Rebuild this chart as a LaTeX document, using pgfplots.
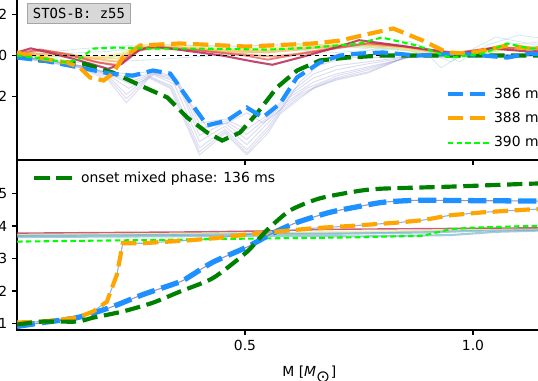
\documentclass[border=0pt]{standalone}
\usepackage{fontspec}
\setmainfont{DejaVu Sans}
\newfontfamily\monofont{DejaVu Sans Mono}
\usepackage{pgfplots}
\pgfplotsset{compat=1.18}

\definecolor{c386}{RGB}{30,144,255}
\definecolor{c388}{RGB}{255,165,0}
\definecolor{c390}{RGB}{0,255,0}
\definecolor{conset}{RGB}{0,128,0}
\definecolor{fanA}{RGB}{185,40,85}
\definecolor{fanB}{RGB}{225,85,80}
\definecolor{fanB2}{RGB}{240,130,85}
\definecolor{fanC}{RGB}{250,180,100}
\definecolor{fanC2}{RGB}{250,210,120}
\definecolor{fanD}{RGB}{245,235,150}
\definecolor{fanE}{RGB}{190,225,160}
\definecolor{fanT}{RGB}{130,195,210}
\definecolor{fanL}{RGB}{140,145,205}
\definecolor{teal}{RGB}{100,170,195}
\definecolor{boxgray}{RGB}{216,216,216}

\pgfplotsset{
  panel/.style={
    scale only axis, width=393.98pt, height=122.4pt,
    xmin=0, xmax=1.2,
    axis line style={line width=0.8pt},
    every tick/.style={line width=0.8pt, black},
    tick align=outside, major tick length=3.5pt,
    tick pos=left,
    xtick={0.5,1.0},
    /pgf/number format/assume math mode=true,
    legend cell align=left,
    legend image code/.code={\draw[##1] (0pt,0pt) -- (23pt,0pt); \path (0pt,0pt) -- (30pt,0pt);},
  },
  thick dash/.style={line width=3pt, dash pattern=on 11pt off 4.8pt},
  thin dash/.style={line width=1.5pt, dash pattern=on 4pt off 2.4pt},
  fan/.style={line width=1.3pt, opacity=0.75, forget plot},
  faint/.style={line width=0.5pt, opacity=0.35, forget plot},
  dip/.style={line width=0.7pt, opacity=0.3, fanL, forget plot},
}

\begin{document}
\begin{tikzpicture}
\useasboundingbox (0,0) rectangle (387.36pt,273.6pt);
\clip (0,0) rectangle (387.36pt,273.6pt);

% upper panel
\begin{axis}[panel,
    at={(12.24pt,158.4pt)},
    ymin=-5.1, ymax=3.2,
    ytick={-2,0,2},
    xticklabels={},
    legend style={at={(axis cs:0.93,-1.3)}, anchor=north west,
      draw=none, fill=none, row sep=4.5pt},
]
% fan of earlier times
\addplot[faint, fanT, line width=0.6pt] coordinates {(0,0.0)(0.08,0.2)(0.15,0.35)(0.25,0.5)(0.35,0.55)(0.45,0.4)(0.55,0.5)(0.65,0.55)(0.72,0.4)(0.8,0.6)(0.88,0.5)(0.93,-0.6)(0.98,0.1)(1.05,0.9)(1.12,0.6)(1.2,0.8)};
\addplot[faint, fanT, line width=0.6pt] coordinates {(0,-0.1)(0.07,-0.2)(0.14,-0.35)(0.2,-0.3)(0.3,-0.2)(0.4,-0.05)(0.5,0.1)(0.6,0.3)(0.7,0.15)(0.8,0.3)(0.9,0.2)(0.95,-0.3)(1.0,0.2)(1.08,0.6)(1.2,0.5)};
\addplot[faint, fanT, line width=0.6pt] coordinates {(0,0.05)(0.1,0.1)(0.2,0.2)(0.3,0.45)(0.4,0.5)(0.5,0.45)(0.6,0.6)(0.7,0.5)(0.78,0.3)(0.86,0.7)(0.92,0.2)(0.97,-0.3)(1.03,0.5)(1.1,1.0)(1.2,0.7)};
% late times: the dip
\addplot[dip] coordinates {(0,-0.1)(0.057,-0.3)(0.138,-0.6)(0.2,-1.2)(0.24,-2.3)(0.29,-1.1)(0.336,-1.6)(0.4,-4.85)(0.456,-3.8)(0.504,-4.85)(0.55,-3.8)(0.577,-2.85)(0.623,-2.05)(0.65,-1.6)(0.7,-1.2)(0.77,-0.85)(0.86,0.0)(0.95,0.05)(1.05,-0.05)(1.2,0.0)};
\addplot[dip] coordinates {(0,-0.1)(0.057,-0.28)(0.138,-0.58)(0.2,-1.1)(0.24,-2.1)(0.29,-1.05)(0.338,-1.55)(0.4,-4.7)(0.456,-3.7)(0.504,-4.75)(0.55,-3.65)(0.578,-2.75)(0.62,-2.0)(0.655,-1.55)(0.7,-1.15)(0.77,-0.8)(0.86,-0.02)(0.95,0.08)(1.2,0.0)};
\addplot[dip] coordinates {(0,-0.1)(0.057,-0.25)(0.138,-0.55)(0.2,-1.0)(0.24,-1.9)(0.29,-1.0)(0.34,-1.5)(0.4,-4.5)(0.456,-3.6)(0.504,-4.6)(0.55,-3.5)(0.58,-2.6)(0.62,-1.9)(0.66,-1.45)(0.7,-1.1)(0.77,-0.7)(0.86,-0.05)(0.95,0.1)(1.2,0.0)};
\addplot[dip] coordinates {(0,-0.08)(0.058,-0.22)(0.14,-0.52)(0.2,-0.95)(0.245,-1.6)(0.3,-0.95)(0.345,-1.4)(0.4,-4.2)(0.456,-3.45)(0.504,-4.35)(0.55,-3.3)(0.59,-2.3)(0.635,-1.6)(0.68,-1.2)(0.7,-1.0)(0.77,-0.62)(0.86,-0.08)(0.95,0.08)(1.2,0.02)};
\addplot[dip] coordinates {(0,-0.05)(0.06,-0.2)(0.14,-0.5)(0.2,-0.9)(0.25,-1.4)(0.3,-0.9)(0.35,-1.3)(0.4,-3.9)(0.456,-3.3)(0.504,-4.1)(0.55,-3.1)(0.6,-2.0)(0.65,-1.3)(0.7,-0.9)(0.77,-0.55)(0.86,-0.1)(0.95,0.05)(1.2,0.05)};
\addplot[dip] coordinates {(0,-0.05)(0.06,-0.2)(0.14,-0.5)(0.2,-0.88)(0.25,-1.25)(0.3,-0.88)(0.35,-1.2)(0.4,-3.6)(0.456,-3.2)(0.504,-3.85)(0.55,-3.0)(0.6,-1.9)(0.65,-1.1)(0.7,-0.7)(0.77,-0.4)(0.86,-0.08)(1.2,0.02)};
\addplot[dip] coordinates {(0,-0.05)(0.06,-0.2)(0.14,-0.5)(0.2,-0.85)(0.25,-1.1)(0.3,-0.85)(0.35,-1.1)(0.4,-3.3)(0.456,-3.1)(0.504,-3.6)(0.55,-2.9)(0.6,-1.8)(0.65,-0.9)(0.7,-0.5)(0.77,-0.3)(0.86,-0.05)(1.2,0.0)};
\addplot[dip] coordinates {(0,-0.1)(0.06,-0.2)(0.14,-0.55)(0.2,-0.8)(0.25,-0.9)(0.3,-0.75)(0.34,-1.0)(0.37,-2.0)(0.417,-3.5)(0.46,-3.3)(0.504,-2.8)(0.54,-3.3)(0.58,-2.6)(0.62,-1.3)(0.66,-0.5)(0.72,-0.1)(1.2,0.0)};
% early times: the ribbon near zero
\addplot[fan, fanE] coordinates {(0,0.0)(0.1,-0.05)(0.2,-0.1)(0.28,0.3)(0.4,0.3)(0.55,0.25)(0.65,0.4)(0.75,0.45)(0.85,0.3)(0.93,-0.1)(1.0,0.05)(1.1,0.4)(1.2,0.5)};
\addplot[fan, fanD, line width=1.8pt] coordinates {(0,0.05)(0.1,0.05)(0.18,-0.1)(0.23,0.1)(0.27,0.5)(0.35,0.45)(0.45,0.3)(0.55,0.35)(0.62,0.5)(0.72,0.55)(0.82,0.45)(0.92,0.1)(0.97,-0.05)(1.05,0.3)(1.2,0.4)};
\addplot[fan, fanC2] coordinates {(0,0.05)(0.09,0.08)(0.16,-0.1)(0.22,-0.15)(0.27,0.45)(0.35,0.42)(0.45,0.25)(0.55,0.22)(0.63,0.42)(0.74,0.55)(0.84,0.42)(0.94,0.08)(1.05,0.32)(1.2,0.38)};
\addplot[fan, fanC] coordinates {(0,0.05)(0.08,0.1)(0.15,-0.1)(0.22,-0.3)(0.27,0.4)(0.35,0.4)(0.45,0.2)(0.55,0.15)(0.65,0.35)(0.75,0.55)(0.85,0.4)(0.95,0.05)(1.05,0.35)(1.2,0.35)};
\addplot[fan, fanB2] coordinates {(0,0.08)(0.06,0.25)(0.12,0.05)(0.18,-0.35)(0.22,-0.45)(0.26,0.3)(0.32,0.4)(0.42,0.2)(0.5,0.05)(0.56,-0.05)(0.62,0.1)(0.7,0.4)(0.77,0.6)(0.86,0.42)(0.95,0.08)(1.05,0.38)(1.2,0.32)};
\addplot[fan, fanB] coordinates {(0,0.1)(0.05,0.3)(0.1,0.1)(0.17,-0.3)(0.22,-0.5)(0.26,0.2)(0.3,0.4)(0.4,0.25)(0.5,0.0)(0.55,-0.2)(0.6,0.0)(0.7,0.35)(0.77,0.6)(0.85,0.45)(0.95,0.1)(1.05,0.4)(1.2,0.3)};
\addplot[fan, fanA, line width=1.5pt, opacity=0.85] coordinates {(0,0.15)(0.03,0.35)(0.07,0.15)(0.13,-0.2)(0.2,-0.65)(0.23,-0.4)(0.27,0.3)(0.3,0.45)(0.35,0.3)(0.45,0.0)(0.52,-0.3)(0.56,-0.45)(0.62,-0.1)(0.7,0.4)(0.75,0.75)(0.8,0.6)(0.9,0.3)(0.97,0.1)(1.04,0.35)(1.12,0.2)(1.2,0.25)};
% zero line
\addplot[black, line width=0.8pt, dash pattern=on 3pt off 2.5pt, forget plot] coordinates {(0,0)(1.2,0)};
% onset of mixed phase
\addplot[conset, thick dash, forget plot] coordinates {(0,0)(0.05,-0.24)(0.11,-0.34)(0.145,-0.39)(0.21,-0.83)(0.285,-1.61)(0.33,-2.05)(0.373,-3.02)(0.417,-3.76)(0.45,-4.15)(0.489,-3.76)(0.526,-2.83)(0.57,-1.56)(0.614,-0.73)(0.664,-0.24)(0.724,-0.1)(0.8,0)(1.2,0)};
% highlighted times
\addplot[c386, thick dash] coordinates {(0,-0.1)(0.057,-0.24)(0.138,-0.59)(0.204,-0.88)(0.254,-0.98)(0.298,-0.73)(0.336,-0.88)(0.373,-2.05)(0.417,-3.41)(0.461,-3.17)(0.504,-2.54)(0.539,-3.02)(0.577,-2.34)(0.614,-1.07)(0.664,-0.34)(0.708,0)(0.752,0.1)(0.803,0.15)(0.877,0)(0.971,0.1)(1.075,-0.1)(1.125,0.1)(1.19,0)};
\addplot[c388, thick dash] coordinates {(0,0.15)(0.057,-0.15)(0.11,-0.34)(0.138,-0.59)(0.16,-1.07)(0.19,-1.22)(0.21,-0.88)(0.232,-0.1)(0.27,0.49)(0.357,0.59)(0.504,0.44)(0.65,0.59)(0.708,0.73)(0.774,1.07)(0.825,1.32)(0.89,0.73)(0.943,0.15)(0.987,0.1)(1.022,0.24)(1.075,0.49)(1.125,0.34)(1.2,0.4)};
\addplot[c390, thin dash] coordinates {(0,0)(0.057,-0.15)(0.11,-0.34)(0.138,-0.15)(0.167,0.34)(0.219,0.39)(0.29,0.34)(0.4,0.34)(0.55,0.29)(0.65,0.39)(0.75,0.59)(0.8,0.88)(0.877,0.49)(0.95,-0.1)(1.022,0.1)(1.075,0.59)(1.125,0.34)(1.2,0.4)};
\legend{386 ms, 388 ms, 390 ms}
\end{axis}

% lower panel
\begin{axis}[panel,
    at={(12.24pt,36pt)},
    ymin=0.8, ymax=6.03,
    ytick={1,2,3,4,5},
    xticklabels={0.5,1.0},
    xlabel={M [\textit{M}\textsubscript{\large ⊙}]},
    xlabel style={at={(axis description cs:0.476,0)}, anchor=base west, yshift=-33.8pt},
    legend style={at={(axis cs:0.024,5.85)}, anchor=north west,
      draw=none, fill=none},
]
\addplot[fan, teal, line width=1.5pt, opacity=0.6] coordinates {(0,3.66)(0.3,3.68)(0.55,3.7)(0.75,3.68)(0.95,3.72)(1.05,3.82)(1.2,3.88)};
\addplot[fan, teal, line width=1.5pt, opacity=0.6] coordinates {(0,3.7)(0.3,3.72)(0.5,3.75)(0.7,3.76)(0.9,3.8)(1.0,3.85)(1.2,3.9)};
\addplot[fan, teal, line width=1.2pt, opacity=0.5] coordinates {(0,3.72)(0.3,3.75)(0.55,3.78)(0.8,3.8)(1.0,3.88)(1.2,3.94)};
\addplot[fan, fanD, line width=1pt] coordinates {(0,3.75)(0.3,3.77)(0.55,3.8)(0.8,3.84)(1.0,3.9)(1.2,3.93)};
\addplot[fan, fanA, line width=1pt] coordinates {(0,3.78)(0.2,3.8)(0.4,3.82)(0.55,3.85)(0.7,3.9)(0.9,3.92)(1.2,3.95)};
\addplot[fan, fanT!80!blue, line width=0.8pt] coordinates {(0,1.03)(0.057,1.06)(0.132,1.18)(0.167,1.37)(0.197,1.67)(0.219,2.5)(0.232,3.47)(0.276,3.47)(0.379,3.56)(0.43,3.62)(0.533,3.78)(0.649,3.93)(0.73,4.0)(0.84,4.11)(0.89,4.18)(0.95,4.33)(1.022,4.42)(1.125,4.51)(1.2,4.53)};
\addplot[fan, fanL!80!black, line width=0.8pt, smooth, tension=0.4] coordinates {(0,0.91)(0.057,1.03)(0.132,1.18)(0.204,1.49)(0.276,1.89)(0.357,2.28)(0.379,2.45)(0.43,2.89)(0.504,3.35)(0.561,3.78)(0.614,4.11)(0.686,4.42)(0.75,4.6)(0.803,4.73)(0.877,4.79)(1.0,4.78)(1.2,4.76)};
\addplot[c390, thin dash, forget plot] coordinates {(0,3.52)(0.3,3.57)(0.5,3.61)(0.74,3.65)(0.89,3.7)(0.95,3.9)(1.0,3.95)(1.12,4.0)(1.2,4.02)};
\addplot[c386, line width=3.8pt, dash pattern=on 13pt off 5pt, forget plot, smooth, tension=0.4] coordinates {(0,0.91)(0.057,1.03)(0.132,1.18)(0.204,1.49)(0.276,1.89)(0.357,2.28)(0.379,2.45)(0.43,2.89)(0.504,3.35)(0.561,3.78)(0.614,4.11)(0.686,4.42)(0.75,4.6)(0.803,4.73)(0.877,4.79)(1.0,4.78)(1.2,4.76)};
\addplot[c388, thick dash, forget plot] coordinates {(0,1.03)(0.057,1.06)(0.132,1.18)(0.167,1.37)(0.197,1.67)(0.219,2.5)(0.232,3.47)(0.276,3.47)(0.379,3.56)(0.43,3.62)(0.533,3.78)(0.649,3.93)(0.73,4.0)(0.84,4.11)(0.89,4.18)(0.95,4.33)(1.022,4.42)(1.125,4.51)(1.2,4.53)};
\addplot[conset, thick dash, smooth, tension=0.4] coordinates {(0,0.97)(0.057,1.06)(0.132,1.06)(0.167,1.18)(0.232,1.37)(0.298,1.64)(0.357,1.98)(0.43,2.4)(0.504,3.2)(0.548,3.87)(0.599,4.48)(0.664,4.85)(0.75,5.08)(0.803,5.15)(0.95,5.21)(1.125,5.3)(1.2,5.32)};
\legend{onset mixed phase: 136 ms}
\end{axis}

\node[fill=boxgray, draw=gray!70, line width=0.6pt, anchor=south west,
  inner xsep=4pt, inner ysep=3.5pt, font=\monofont] at (19.4pt,256.3pt) {STOS-B: z55};
\end{tikzpicture}
\end{document}
